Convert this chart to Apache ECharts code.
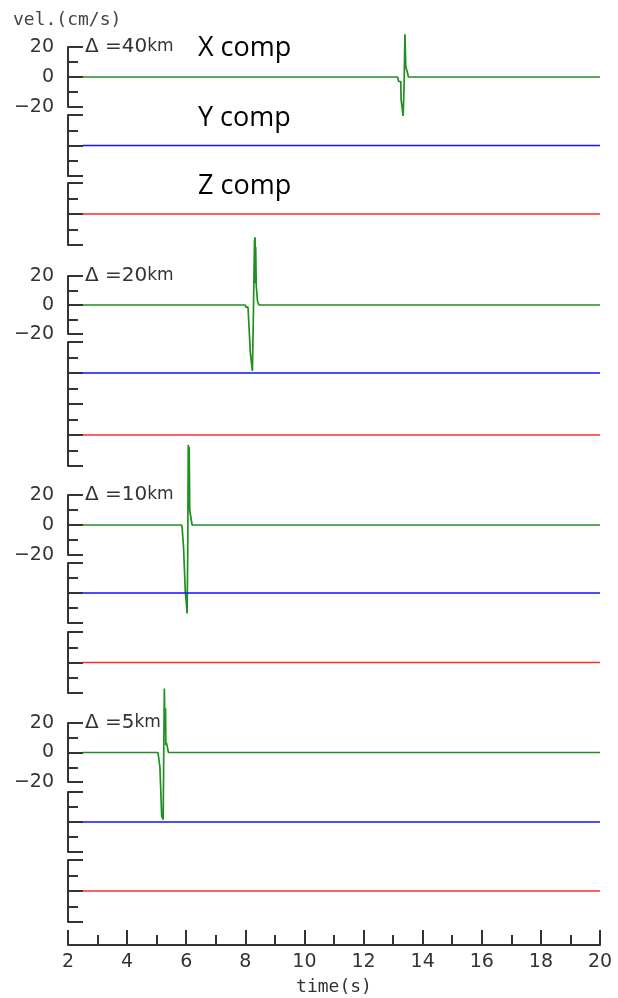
<!DOCTYPE html>
<html>
<head>
<meta charset="utf-8">
<script src="https://cdn.jsdelivr.net/npm/echarts@6/dist/echarts.min.js"></script>
<style>
  html, body { margin: 0; padding: 0; background: #fff; }
  #chart { width: 618px; height: 998px; }
</style>
</head>
<body>
<div id="chart"></div>
<script>
// distances (km) of the four stations, top to bottom
const distances = ['40', '20', '10', '5']
const components = ['X comp', 'Y comp', 'Z comp']
const timeRange = [2, 20]

// X component velocity traces [time (s), vel (cm/s)]
const x40 = [[2.5, 0], [13.15, 0], [13.19, -3], [13.26, -3], [13.27, -15], [13.32, -15], [13.34, -26], [13.37, -7], [13.40, 28.5], [13.42, 28.5], [13.43, 6.7], [13.46, 6], [13.47, 4], [13.50, 4], [13.52, 0], [13.55, -1], [13.58, 0], [20, 0]]
const x20 = [[2.5, 0], [8.0, 0], [8.02, -1.5], [8.09, -1.5], [8.11, -9], [8.16, -9], [8.17, -33], [8.21, -33], [8.24, -45.5], [8.27, -10], [8.31, 44], [8.33, 46.7], [8.34, 15], [8.35, 40], [8.37, 13.3], [8.40, 13.3], [8.41, 3], [8.45, 3], [8.46, 0], [20, 0]]
const x10 = [[2.5, 0], [5.84, 0], [5.86, -1.6], [5.89, -1.6], [5.91, -15], [5.95, -15], [5.97, -45], [6.00, -51], [6.03, -59], [6.05, -20], [6.07, 53.5], [6.09, 10], [6.10, 52], [6.12, 9.5], [6.18, 9.5], [6.20, 0], [15.94, 0], [15.96, -1.3], [15.98, 0], [20, 0]]
const x5 = [[2.5, 0], [3.88, 0], [3.90, 1], [3.93, 1], [3.95, 0], [5.04, 0], [5.06, -2.2], [5.10, -2.2], [5.11, -10], [5.16, -10], [5.17, -43], [5.20, -43], [5.22, -45.5], [5.24, 0], [5.26, 43.3], [5.28, 15], [5.30, 30], [5.31, 5], [5.33, 6.7], [5.39, 6.7], [5.40, 0], [20, 0]]

// Y and Z components stay flat
const yComp = [[2.5, 0], [20, 0]]
const zComp = [[2.5, 0], [20, 0]]

const xTraces = [x40, x20, x10, x5]
const colors = ['#1f8f1f', '#1010ff', '#ff2a2a']

// panel layout: [top, bottom] in px for each of the 12 strips
const panels = [
  [47, 107], [115, 176], [183, 245],
  [276, 334], [342, 404], [404, 466],
  [495, 555], [563, 623], [632, 693],
  [723, 782], [792, 852], [860, 922]
]
const LEFT = 68, WIDTH = 532
const axisColor = '#333'

const grids = [], xAxes = [], yAxes = [], series = []
panels.forEach((p, i) => {
  const isLast = i === panels.length - 1
  grids.push({ left: LEFT, width: WIDTH, top: p[0], height: p[1] - p[0] })
  xAxes.push({
    gridIndex: i, type: 'value', min: timeRange[0], max: timeRange[1], interval: 2,
    show: isLast, position: 'bottom', offset: 23,
    name: isLast ? 'time(s)' : '', nameLocation: 'middle', nameGap: 33,
    nameTextStyle: { fontFamily: 'DejaVu Sans Mono', fontSize: 18, color: axisColor },
    axisLine: { onZero: false, lineStyle: { color: axisColor, width: 2 } },
    axisTick: { inside: true, length: 15, lineStyle: { color: axisColor, width: 2 } },
    minorTick: { show: true, splitNumber: 2, length: 10, lineStyle: { color: axisColor, width: 2 } },
    axisLabel: { margin: 8, fontFamily: 'DejaVu Sans', fontSize: 19, color: axisColor },
    splitLine: { show: false }
  })
  yAxes.push({
    gridIndex: i, type: 'value', min: -20, max: 20, interval: 20,
    axisLine: { show: true, onZero: false, lineStyle: { color: axisColor, width: 2 } },
    axisTick: { show: true, inside: true, length: 15, lineStyle: { color: axisColor, width: 2 } },
    minorTick: { show: true, splitNumber: 2, length: 10, lineStyle: { color: axisColor, width: 2 } },
    splitLine: { show: false },
    axisLabel: {
      show: i % 3 === 0, margin: 14, fontFamily: 'DejaVu Sans', fontSize: 19, color: axisColor,
      formatter: v => (v < 0 ? '\u2212' + (-v) : '' + v)
    }
  })
  const comp = i % 3
  const data = comp === 0 ? xTraces[Math.floor(i / 3)] : (comp === 1 ? yComp : zComp)
  series.push({
    type: 'line', xAxisIndex: i, yAxisIndex: i, data: data,
    showSymbol: false, clip: false, z: 1,
    lineStyle: { color: colors[comp], width: 1.7 }
  })
})

const texts = [
  { type: 'text', left: 13, top: 11, style: { text: 'vel.(cm/s)', font: '18px "DejaVu Sans Mono"', fill: '#444' } }
]
distances.forEach((d, g) => {
  texts.push({
    type: 'text', x: 85, y: panels[g * 3][0],
    style: {
      text: '{a|\u0394 =' + d + '}{b|km}', verticalAlign: 'middle',
      rich: {
        a: { fontFamily: 'DejaVu Sans', fontSize: 20, fill: '#333' },
        b: { fontFamily: 'DejaVu Sans', fontSize: 17, fill: '#333' }
      }
    }
  })
})
const compY = [48, 118, 186]
components.forEach((c, k) => {
  texts.push({
    type: 'text', x: 198, y: compY[k],
    style: { text: c, font: '27px "Open Sans"', fill: '#000', verticalAlign: 'middle' }
  })
})

const chart = echarts.init(document.getElementById('chart'), null, { renderer: 'canvas' })
chart.setOption({
  animation: false,
  backgroundColor: '#fff',
  grid: grids,
  xAxis: xAxes,
  yAxis: yAxes,
  series: series,
  graphic: texts
})
</script>
</body>
</html>
